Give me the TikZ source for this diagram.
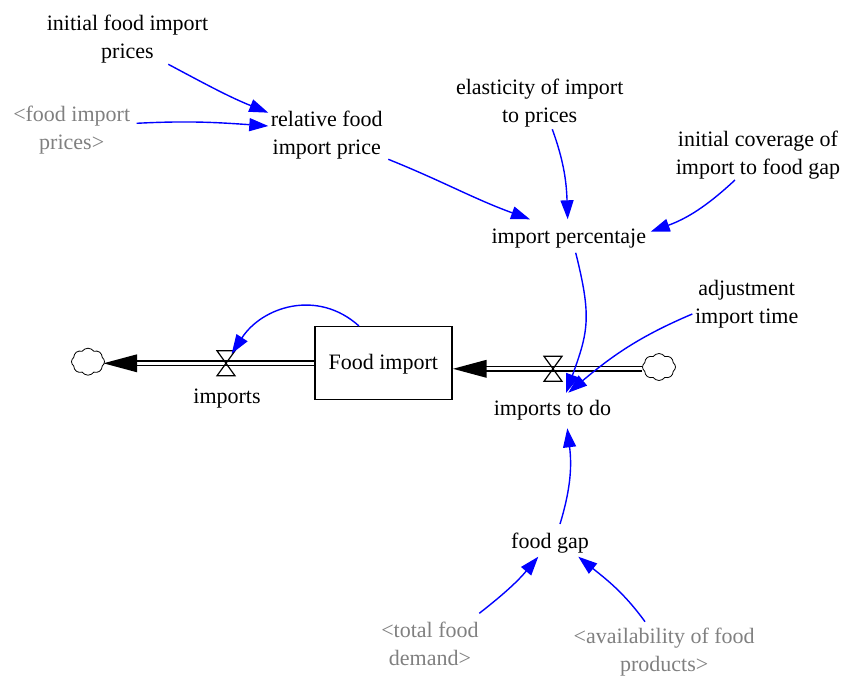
\documentclass[tikz,border=0pt]{standalone}
\usepackage{fontspec}
\setmainfont{Liberation Serif}
\newfontfamily\vensimfont{Liberation Serif}
\usetikzlibrary{arrows.meta,shapes.symbols}
\definecolor{vblue}{RGB}{0,0,255}
\definecolor{vgray}{RGB}{128,128,128}
\begin{document}
\begin{tikzpicture}[x=1pt,y=1pt,
  var/.style={align=center,inner sep=2pt,font=\vensimfont\fontsize{22}{28}\selectfont},
  oneline/.style={text height=18pt,text depth=4.8pt},
  shadowvar/.style={var,text=vgray},
  link/.style={draw=vblue,line width=1.4pt,-{Triangle[length=19pt,width=13pt]}},
  pipe/.style={double,double distance=3.3pt,line width=1.4pt},
  stockbox/.style={draw,line width=1.4pt,minimum width=137pt,minimum height=73pt,inner sep=0pt,var,oneline},
  cloudnode/.style={cloud,draw,cloud puffs=8,cloud puff arc=110,cloud ignores aspect,minimum width=33pt,minimum height=27pt,inner sep=0pt,line width=0.8pt},
  valvepic/.pic={\draw[line width=1.2pt,line join=miter] (-9,12.5)--(9,12.5)--(-9,-12.5)--(9,-12.5)--cycle;}
]
\useasboundingbox (0,0) rectangle (847,-677);

% variables
\node[var] (ifip) at (127.5,-39) {initial food import\\prices};
\node[shadowvar] (fip) at (71.7,-130) {<food import\\prices>};
\node[var] (rfip) at (326.7,-135.4) {relative food\\import price};
\node[var] (elast) at (539.7,-103.3) {elasticity of import\\to prices};
\node[var] (icov) at (758,-154.8) {initial coverage of\\import to food gap};
\node[var,oneline] (ipct) at (568.8,-236.7) {import percentaje};
\node[var] (adj) at (746.7,-303.8) {adjustment\\import time};
\node[var,oneline] (imp) at (227,-397) {imports};
\node[var,oneline] (itd) at (552.5,-409) {imports to do};
\node[var,oneline] (fgap) at (550,-541.5) {food gap};
\node[shadowvar] (tfd) at (430,-644) {<total food\\demand>};
\node[shadowvar] (avail) at (664.2,-651.7) {<availability of food\\products>};

% stock, clouds, valves
\node[stockbox] (stock) at (383.3,-363) {Food import};
\node[cloudnode] (cl1) at (88,-361.7) {};
\node[cloudnode] (cl2) at (659,-367) {};
\coordinate (v1) at (226,-363.3);
\coordinate (v2) at (553,-368.8);
\coordinate (tip1) at (103.5,-363.3);
\coordinate (tip2) at (453,-368.8);

% pipes
\draw[pipe] (stock.west |- v1) -- ([xshift=33]tip1);
\fill (tip1) -- ([shift={(33.5,9)}]tip1) -- ([shift={(33.5,-9)}]tip1) -- cycle;
\draw[pipe] (cl2.west |- v2) -- ([xshift=33]tip2);
\fill (tip2) -- ([shift={(33.5,9)}]tip2) -- ([shift={(33.5,-9)}]tip2) -- cycle;
\pic at (v1) {valvepic};
\pic at (v2) {valvepic};

% links
\draw[link] ([shift={(40.8,-25.3)}]ifip.center) to[out=-28,in=158] ([shift={(-58.4,22.7)}]rfip.center);
\draw[link] ([shift={(65,6.7)}]fip.center) to[out=3,in=176] ([shift={(-58.4,9.4)}]rfip.center);
\draw[link] ([shift={(61.6,-23.9)}]rfip.center) to[out=-22,in=160] ([shift={(-38.8,17.4)}]ipct.center);
\draw[link] ([shift={(12.6,-26)}]elast.center) to[out=-70,in=92] ([shift={(-1.1,17.4)}]ipct.center);
\draw[link] ([shift={(-23,-25.2)}]icov.center) to[out=-137,in=20] ([shift={(81.9,5)}]ipct.center);
\draw[link] ([shift={(6.9,-16)}]ipct.center) to[out=-76,in=70,looseness=1.2] ([shift={(13.5,16)}]itd.center);
\draw[link] ([shift={(-54.4,-10.2)}]adj.center) to[out=-157,in=40] ([shift={(15.8,16.3)}]itd.center);
\draw[link] ([shift={(10,17.5)}]fgap.center) to[out=73,in=-83] ([shift={(14.8,-19.3)}]itd.center);
\draw[link] ([shift={(49.3,30.7)}]tfd.center) to[out=38,in=-130] ([shift={(-11.7,-15.2)}]fgap.center);
\draw[link] ([shift={(-19.2,30)}]avail.center) to[out=126,in=-39] ([shift={(28.3,-15.2)}]fgap.center);
\draw[link] ([shift={(-24.3,37)}]stock.center) to[out=138,in=57,looseness=1.1] ([shift={(5.7,9.7)}]v1);
\end{tikzpicture}
\end{document}
